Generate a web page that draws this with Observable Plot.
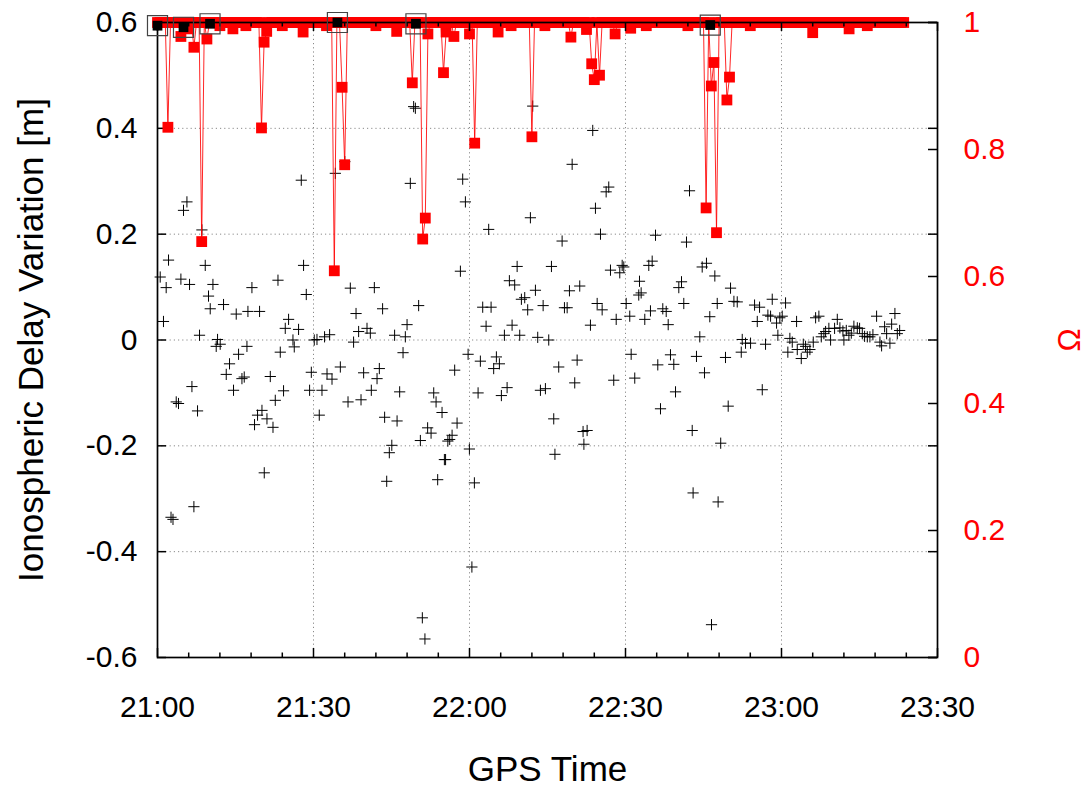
<!DOCTYPE html>
<html>
<head>
<meta charset="utf-8">
<script src="https://cdn.jsdelivr.net/npm/d3@7"></script>
<script src="https://cdn.jsdelivr.net/npm/@observablehq/plot@0.6"></script>
<style>
  html, body { margin: 0; padding: 0; background: #fff; }
  #wrap { position: relative; width: 1087px; height: 787px; }
  #wrap svg { position: absolute; left: 0; top: 0; overflow: visible; max-width: none; }
</style>
</head>
<body>
<div id="wrap"></div>
<script>
// ---- axes / ticks ----
const xTickValues = [0, 30, 60, 90, 120, 150];            // minutes after 21:00
const xTickLabels = ["21:00", "21:30", "22:00", "22:30", "23:00", "23:30"];
const xMinorTicks = [6,12,18,24,36,42,48,54,66,72,78,84,96,102,108,114,126,132,138,144];
const xGrid = [30, 60, 90, 120];
const yTickValues = [-0.6, -0.4, -0.2, 0, 0.2, 0.4, 0.6];
const yTickLabels = ["-0.6", "-0.4", "-0.2", "0", "0.2", "0.4", "0.6"];
const yGrid = [-0.4, -0.2, 0, 0.2, 0.4];
const omegaTickValues = [0, 0.2, 0.4, 0.6, 0.8, 1];
const omegaTickLabels = ["0", "0.2", "0.4", "0.6", "0.8", "1"];

// ---- ionospheric delay variation (black +), minutes after 21:00 ----
const delayMinutes = [
0.52,1.15,1.67,2.12,2.60,2.98,3.60,4.04,4.50,5.00,
5.66,6.16,6.62,7.00,7.70,8.08,8.54,9.18,9.81,10.14,
10.66,11.29,11.55,12.06,12.70,13.22,13.85,14.62,15.14,15.59,
16.24,16.68,17.20,17.39,18.16,18.66,19.24,19.63,20.09,20.53,
21.05,21.69,22.21,22.65,23.17,23.61,24.24,24.57,25.21,26.05,
26.30,27.13,27.65,28.09,28.61,29.25,29.58,30.15,30.67,31.11,
31.63,32.13,32.60,33.10,33.56,34.20,35.16,36.02,36.64,37.08,
37.71,38.18,38.68,39.14,39.64,40.29,40.93,41.12,41.70,42.22,
42.66,43.29,43.68,44.08,44.58,45.06,45.60,46.07,46.57,47.22,
47.66,47.99,48.62,49.26,49.59,50.22,50.55,50.93,51.43,51.95,
52.61,53.12,53.57,53.88,54.72,55.17,55.40,55.84,56.19,56.65,
57.15,57.61,58.25,58.69,59.21,59.73,59.98,60.46,60.94,61.65,
62.09,62.54,63.19,63.69,64.15,64.65,65.17,65.75,66.13,66.71,
67.23,67.67,68.19,68.69,69.16,69.66,69.98,70.62,71.19,71.71,
72.16,72.68,73.12,73.64,74.16,74.60,75.24,75.76,76.20,76.43,
77.16,77.81,78.26,78.78,79.22,79.74,80.24,80.70,81.20,81.84,
82.00,82.62,83.26,83.70,84.22,84.55,85.19,85.51,86.28,86.78,
87.11,87.74,88.21,88.90,89.36,89.67,90.13,90.82,91.09,91.78,
92.55,92.69,93.01,93.71,94.48,94.80,95.13,95.77,96.21,96.73,
97.17,97.83,98.21,98.65,99.29,99.62,100.25,100.77,101.21,101.73,
102.31,102.83,103.00,103.65,104.29,104.75,105.19,105.57,106.21,106.54,
107.18,107.64,107.81,108.31,109.23,109.75,110.20,110.85,111.49,112.26,
112.45,113.08,114.05,114.82,115.34,115.78,116.30,116.93,117.38,117.90,
118.22,119.05,119.30,119.68,120.14,120.78,121.22,121.61,122.07,122.90,
123.03,123.80,124.19,124.63,124.96,125.46,126.11,126.56,127.19,127.65,
128.15,128.48,129.11,129.44,130.21,130.73,131.23,131.81,132.00,132.46,
132.96,133.42,133.92,134.58,135.02,135.54,135.98,136.50,137.00,137.58,
138.29,138.93,139.25,139.83,140.22,140.85,141.18,141.81,142.27,142.72
];
const delayValues = [
0.119,0.035,0.099,0.151,-0.335,-0.339,-0.117,-0.120,0.115,0.245,
0.261,0.105,-0.088,-0.315,-0.134,0.009,0.208,0.141,0.083,0.059,
0.105,-0.012,0.001,-0.008,0.067,-0.065,-0.045,-0.095,0.049,-0.027,
-0.073,-0.070,-0.012,0.054,0.099,-0.160,-0.142,0.054,-0.133,-0.251,
-0.149,-0.069,-0.165,-0.114,0.113,-0.023,-0.096,0.022,0.039,0.000,
-0.013,0.020,0.302,0.141,0.086,-0.095,-0.061,0.000,0.001,-0.142,
-0.095,0.006,-0.064,0.010,-0.074,0.315,-0.051,0.337,-0.117,0.098,
-0.004,0.050,0.016,-0.113,-0.062,0.022,0.013,-0.095,0.099,-0.073,
-0.054,0.059,-0.146,-0.267,-0.213,-0.199,0.009,-0.153,-0.098,-0.024,
0.006,0.029,0.296,0.441,0.438,0.065,-0.190,-0.525,-0.565,-0.166,
-0.176,-0.100,-0.117,-0.264,-0.137,-0.226,-0.226,-0.191,-0.188,-0.180,
-0.057,-0.157,0.130,0.304,0.261,-0.027,-0.206,-0.429,-0.270,-0.100,
-0.040,0.062,0.026,0.209,0.062,-0.054,-0.032,-0.045,-0.105,0.009,
-0.090,0.112,0.028,0.104,0.139,0.009,0.077,0.080,0.057,0.231,
0.442,0.094,0.005,-0.095,0.065,-0.092,0.000,0.139,-0.149,-0.216,
-0.051,0.187,0.061,0.061,0.093,0.332,-0.081,-0.038,0.102,-0.173,
-0.197,-0.171,0.028,0.396,0.249,0.069,0.200,0.057,0.280,0.289,
0.132,-0.076,0.039,0.127,0.141,0.138,0.069,0.045,-0.027,-0.072,
0.085,0.111,0.089,0.039,0.141,0.055,0.149,0.198,-0.047,-0.130,
0.059,0.054,0.029,-0.028,-0.046,-0.098,0.099,0.110,0.069,0.185,
0.282,-0.171,-0.289,-0.031,0.006,0.138,-0.062,0.145,0.044,-0.538,
0.121,0.069,-0.306,-0.195,-0.033,-0.125,0.098,0.073,0.072,-0.023,
0.001,-0.006,-0.006,0.066,0.035,0.062,-0.094,-0.008,0.047,0.045,
0.077,0.032,0.009,0.042,0.045,0.070,-0.023,0.003,-0.004,0.035,
-0.018,-0.035,-0.008,-0.012,-0.023,-0.018,-0.004,0.042,0.045,0.006,
0.012,0.016,0.022,0.000,0.022,0.039,0.023,0.017,0.000,0.018,
0.009,0.013,0.026,0.023,0.022,0.012,0.007,0.006,0.006,0.010,
0.045,-0.004,-0.011,0.025,0.012,-0.006,0.030,0.050,0.012,0.018
];

// ---- Omega (red), one sample every 30 s from 21:00:00 ----
const omegaStepMinutes = 0.5;
const omegaValues = [
1,1,1,1,0.835,1,1,1,1,0.978, 1,1,0.99,1,0.961,1,1,0.655,1,0.974,       // 21:00
1,1,1,1,0.995,1,1,1,1,0.99, 1,1,1,1,0.995,1,1,1,1,1,                   // 21:10
0.834,0.969,0.986,1,1,1,1,1,0.995,1, 1,1,1,1,1,1,0.985,1,1,1,          // 21:20
1,1,1,1,1,0.995,1,1,0.609,1, 1,0.898,0.776,1,1,1,1,1,1,1,              // 21:30
1,1,1,1,0.995,1,1,1,1,1, 1,1,0.986,1,1,1,1,1,0.905,1,                  // 21:40
1,1,0.659,0.692,0.982,1,1,1,1,1, 0.921,0.985,1,1,0.978,1,1,1,1,1,      // 21:50
0.982,1,0.81,1,1,1,1,1,1,1, 1,0.985,1,1,1,1,0.995,1,1,1,               // 22:00
1,1,1,1,0.82,1,1,1,1,0.995, 1,1,1,1,1,1,1,1,1,0.977,                   // 22:10
1,1,1,1,1,0.989,1,0.935,0.91,1, 0.917,1,1,1,1,1,0.982,1,1,1,           // 22:20
1,1,0.991,1,1,1,1,1,0.995,1, 1,1,1,1,1,1,1,1,1,1,                      // 22:30
1,1,1,1,0.995,1,1,1,1,1, 1,0.708,1,0.9,0.937,0.669,1,1,1,0.878,        // 22:40
0.914,1,1,1,1,1,1,1,0.995,1, 1,1,1,1,1,1,1,1,1,1,                      // 22:50
1,1,1,1,1,1,1,1,1,1, 1,1,0.984,1,1,1,1,1,1,1,                          // 23:00
1,1,1,1,1,1,0.99,1,1,1, 1,1,1,0.995,1,1,1,1,1,1,                       // 23:10
1,1,1,1,1,1,1,1                                                        // 23:20
];

// ---- detected events (black squares), minutes after 21:00 ----
const slipMinutes = [0.0, 5.0, 10.1, 34.6, 49.7, 106.3];
const slipOmega = [0.995, 0.9925, 0.998, 1.0, 0.998, 0.996];

// ---- tables ----
const delay = delayMinutes.map((t, i) => ({t, v: delayValues[i]}));
const omega = omegaValues.map((w, i) => ({t: i * omegaStepMinutes, w}));
const slips = slipMinutes.map((t, i) => ({t, w: slipOmega[i]}));

const W = 1087, H = 787, ML = 157, MR = 150, MT = 22, MB = 130;
const innerW = W - ML - MR, innerH = H - MT - MB;
const FONT = "'Liberation Sans', Arial, Helvetica, sans-serif";
const common = {
  width: W, height: H,
  marginLeft: ML, marginRight: MR, marginTop: MT, marginBottom: MB,
  style: {fontFamily: FONT, background: "transparent", overflow: "visible"}
};
const fmt = (vals, labels) => d => labels[vals.indexOf(d)];

const p1 = Plot.plot({
  ...common,
  x: {domain: [0, 150]},
  y: {domain: [-0.6, 0.6]},
  marks: [
    Plot.ruleY(yGrid, {y: d => d, stroke: "#8a8a8a", strokeWidth: 1, strokeDasharray: "1.2,3"}),
    Plot.ruleX(xGrid, {x: d => d, stroke: "#8a8a8a", strokeWidth: 1, strokeDasharray: "1.2,3"}),
    Plot.dot(delay, {x: "t", y: "v", symbol: "plus", r: 3.7, stroke: "#000", strokeWidth: 1}),
    Plot.tickY(yTickValues, {y: d => d, insetRight: innerW - 9, stroke: "#000", strokeWidth: 1.5}),
    Plot.tickY(yTickValues, {y: d => d, insetLeft: innerW - 9, stroke: "#000", strokeWidth: 1.5}),
    Plot.axisY({ticks: yTickValues, tickFormat: fmt(yTickValues, yTickLabels), tickSize: 0, tickPadding: 20, fontSize: 30, label: null, fill: "#000"}),
    Plot.axisX({ticks: xTickValues, tickFormat: fmt(xTickValues, xTickLabels), tickSize: 0, tickPadding: 38, fontSize: 30, label: null, fill: "#000"}),
    Plot.text(["Ionospheric Delay Variation [m]"], {text: d => d, frameAnchor: "left", textAnchor: "middle", lineAnchor: "middle", rotate: -90, dx: -126, fontSize: 35, fill: "#000"}),
    Plot.text(["GPS Time"], {text: d => d, frameAnchor: "bottom", textAnchor: "middle", lineAnchor: "middle", dy: 112, fontSize: 35, fill: "#000"})
  ]
});

const p2 = Plot.plot({
  ...common,
  x: {domain: [0, 150], axis: null},
  y: {domain: [0, 1]},
  marks: [
    Plot.line(omega, {x: "t", y: "w", stroke: "#ff0000", strokeWidth: 1, strokeOpacity: 0.85}),
    Plot.dot(omega, {x: "t", y: "w", symbol: "square", r: 6.1, fill: "#ff0000"}),
    Plot.frame({stroke: "#000", strokeWidth: 1.7}),
    Plot.tickX(xTickValues, {x: d => d, insetTop: innerH - 9, stroke: "#000", strokeWidth: 1.5}),
    Plot.tickX(xTickValues, {x: d => d, insetBottom: innerH - 9, stroke: "#000", strokeWidth: 1.5}),
    Plot.tickX(xMinorTicks, {x: d => d, insetTop: innerH - 4.5, stroke: "#000", strokeWidth: 1.5}),
    Plot.tickX(xMinorTicks, {x: d => d, insetBottom: innerH - 4.5, stroke: "#000", strokeWidth: 1.5}),
    Plot.tickY(omegaTickValues, {y: d => d, insetLeft: innerW - 9, stroke: "#000", strokeWidth: 1.5}),
    Plot.dot(slips, {x: "t", y: "w", symbol: "square", r: 11.3, fill: "none", stroke: "#444", strokeWidth: 1.2}),
    Plot.dot(slips, {x: "t", y: "w", symbol: "square", r: 5.5, fill: "#000"}),
    Plot.axisY({anchor: "right", ticks: omegaTickValues, tickFormat: fmt(omegaTickValues, omegaTickLabels), tickSize: 0, tickPadding: 26, fontSize: 30, label: null, color: "#ff0000"}),
    Plot.text(["Ω"], {text: d => d, frameAnchor: "right", textAnchor: "middle", lineAnchor: "middle", rotate: -90, dx: 133, fontSize: 31, fill: "#ff0000"})
  ]
});

const wrap = document.getElementById("wrap");
wrap.appendChild(p1);
wrap.appendChild(p2);
</script>
</body>
</html>
